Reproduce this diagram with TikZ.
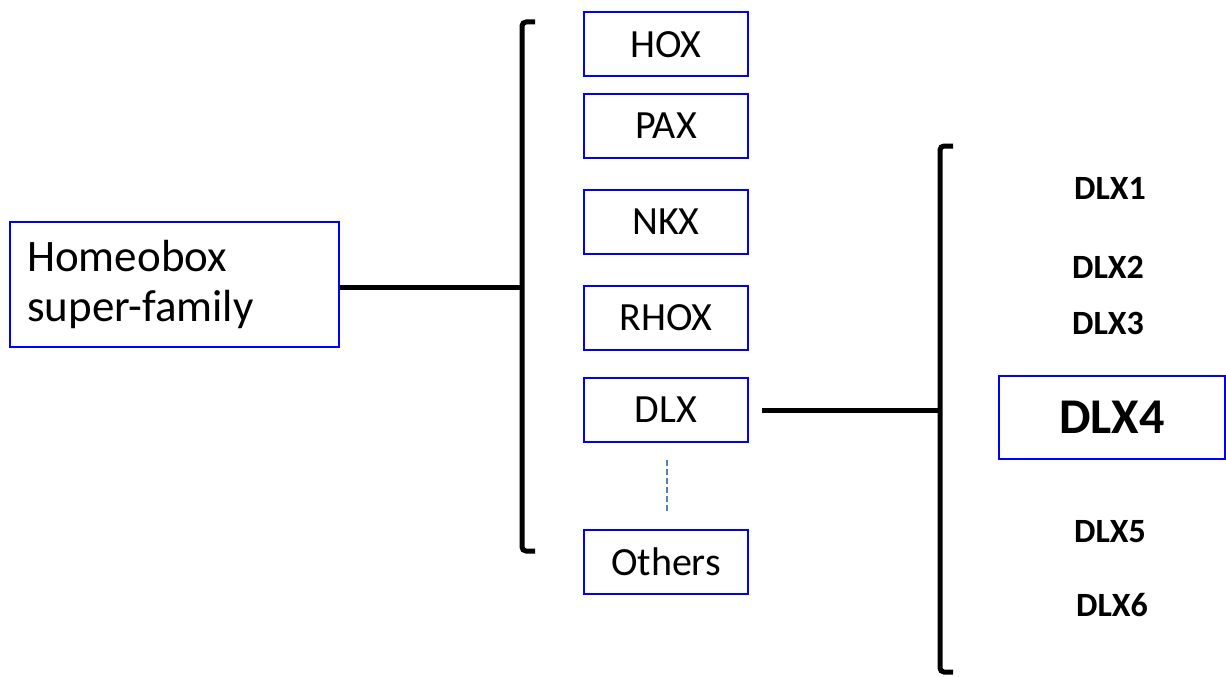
\documentclass[tikz,border=0pt]{standalone}
\usepackage{fontspec}
\setmainfont{Carlito}
\begin{document}
\begin{tikzpicture}[x=1pt,y=-1pt,
  famBox/.style={draw=blue, line width=2pt, minimum width=164pt, minimum height=64pt, inner sep=0pt, font=\fontsize{40}{46}\selectfont},
  memb/.style={font=\bfseries\fontsize{34}{40}\selectfont, inner sep=0pt},
  link/.style={line width=5pt, line cap=butt},
  brace/.style={line width=5pt, rounded corners=4pt}]
\useasboundingbox (0,0) rectangle (1226,677);
\node[draw=blue, line width=2pt, minimum width=329pt, minimum height=125pt, inner sep=0pt] (home) at (174.5,284.5) {};
\node[anchor=west, align=left, inner sep=0pt, font=\fontsize{45}{50}\selectfont] (hometext) at (27,284) {Homeobox\\super-family};
\node[famBox] (hox) at (666,44.5) {HOX};
\node[famBox] (pax) at (666,126) {PAX};
\node[famBox] (nkx) at (666,221.5) {NKX};
\node[famBox] (rhox) at (666,318) {RHOX};
\node[famBox] (dlx) at (666,409.5) {DLX};
\node[famBox] (others) at (666,562) {Others};
\coordinate (lbt) at (535,22);
\coordinate (lbb) at (535,551);
\coordinate (lbm) at (522,287);
\draw[brace] (lbt) -- (522,22) -- (522,551) -- (lbb);
\draw[link] (home.east |- lbm) -- (lbm);
\coordinate (rbt) at (953,146);
\coordinate (rbb) at (953,672);
\coordinate (rbm) at (940,410);
\draw[brace] (rbt) -- (940,146) -- (940,672) -- (rbb);
\coordinate (dlxout) at (762,410);
\draw[link] (dlxout) -- (rbm);
\coordinate (dash1) at (667,460);
\coordinate (dash2) at (667,513);
\draw[draw={rgb,255:red,79;green,129;blue,189}, line width=2pt, dash pattern=on 6pt off 3pt] (dash1) -- (dash2);
\node[memb] (d1) at (1110,188) {DLX1};
\node[memb] (d2) at (1108,267) {DLX2};
\node[memb] (d3) at (1108,323) {DLX3};
\node[draw=blue, line width=2pt, minimum width=226pt, minimum height=83pt, inner sep=0pt, font=\bfseries\fontsize{50}{56}\selectfont] (d4) at (1112,417.5) {DLX4};
\node[memb] (d5) at (1110,532) {DLX5};
\node[memb] (d6) at (1112,605) {DLX6};
\end{tikzpicture}
\end{document}
